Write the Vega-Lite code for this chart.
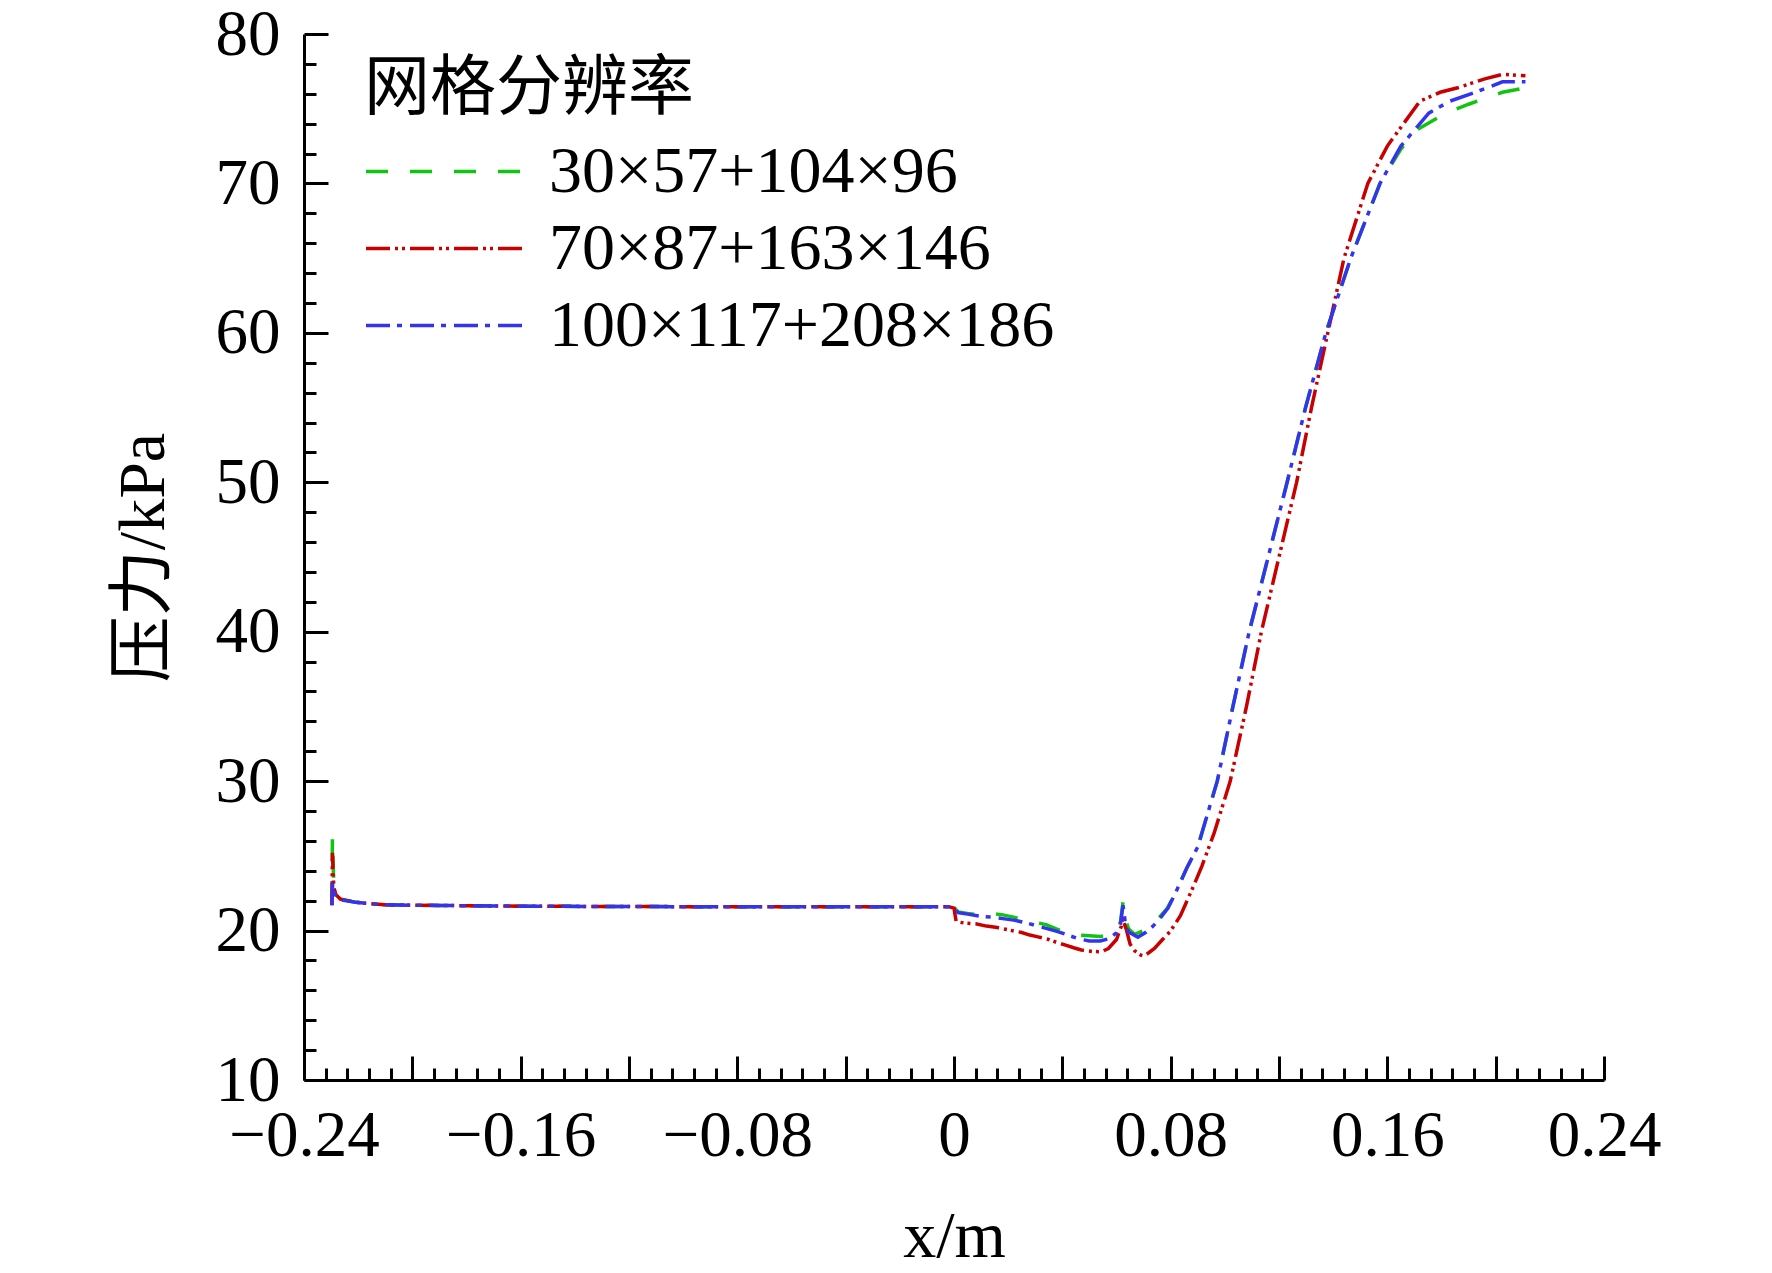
{
  "$schema": "https://vega.github.io/schema/vega-lite/v6.json",
  "width": 1300,
  "height": 1046,
  "autosize": {"type": "none"},
  "padding": {"left": 304, "top": 34, "right": 168, "bottom": 193},
  "background": "white",
  "config": {
    "view": {"stroke": null},
    "axis": {
      "grid": false,
      "domainColor": "black",
      "domainWidth": 3,
      "tickColor": "black",
      "tickWidth": 3,
      "labelFont": "Liberation Serif",
      "labelFontSize": 65,
      "labelColor": "black",
      "labelOverlap": false,
      "labelFlush": false,
      "titleFont": "Liberation Serif, Noto Sans CJK SC",
      "titleFontSize": 66,
      "titleFontWeight": "normal",
      "titleColor": "black"
    },
    "legend": {
      "orient": "none",
      "legendX": 60,
      "legendY": 23,
      "titleFont": "Noto Sans CJK SC",
      "titleFontSize": 66,
      "titleFontWeight": "normal",
      "titleColor": "black",
      "titleLimit": 3000,
      "titlePadding": 10,
      "labelFont": "Liberation Serif",
      "labelFontSize": 66,
      "labelColor": "black",
      "labelLimit": 3000,
      "labelOffset": 22,
      "symbolType": "stroke",
      "symbolSize": 25281,
      "symbolStrokeWidth": 3.5,
      "clipHeight": 77,
      "rowPadding": 0
    }
  },
  "data": {
    "values": [
      {"s": "30×57+104×96", "x": -0.2297, "p": 21.7},
      {"s": "30×57+104×96", "x": -0.2295, "p": 26.3},
      {"s": "30×57+104×96", "x": -0.2290, "p": 23.0},
      {"s": "30×57+104×96", "x": -0.2282, "p": 22.4},
      {"s": "30×57+104×96", "x": -0.2265, "p": 22.1},
      {"s": "30×57+104×96", "x": -0.221, "p": 21.9},
      {"s": "30×57+104×96", "x": -0.216, "p": 21.8},
      {"s": "30×57+104×96", "x": -0.21, "p": 21.72},
      {"s": "30×57+104×96", "x": -0.19, "p": 21.68},
      {"s": "30×57+104×96", "x": -0.16, "p": 21.63},
      {"s": "30×57+104×96", "x": -0.10, "p": 21.6},
      {"s": "30×57+104×96", "x": -0.05, "p": 21.6},
      {"s": "30×57+104×96", "x": -0.002, "p": 21.6},
      {"s": "30×57+104×96", "x": 0.0, "p": 21.55},
      {"s": "30×57+104×96", "x": 0.0015, "p": 21.25},
      {"s": "30×57+104×96", "x": 0.005, "p": 21.15},
      {"s": "30×57+104×96", "x": 0.010, "p": 21.05},
      {"s": "30×57+104×96", "x": 0.014, "p": 21.15},
      {"s": "30×57+104×96", "x": 0.018, "p": 21.05},
      {"s": "30×57+104×96", "x": 0.022, "p": 20.9},
      {"s": "30×57+104×96", "x": 0.026, "p": 20.7},
      {"s": "30×57+104×96", "x": 0.030, "p": 20.55},
      {"s": "30×57+104×96", "x": 0.034, "p": 20.4},
      {"s": "30×57+104×96", "x": 0.038, "p": 20.1},
      {"s": "30×57+104×96", "x": 0.042, "p": 19.85},
      {"s": "30×57+104×96", "x": 0.046, "p": 19.7},
      {"s": "30×57+104×96", "x": 0.050, "p": 19.65},
      {"s": "30×57+104×96", "x": 0.054, "p": 19.6},
      {"s": "30×57+104×96", "x": 0.057, "p": 19.7},
      {"s": "30×57+104×96", "x": 0.060, "p": 20.0},
      {"s": "30×57+104×96", "x": 0.0615, "p": 20.6},
      {"s": "30×57+104×96", "x": 0.0624, "p": 21.9},
      {"s": "30×57+104×96", "x": 0.0632, "p": 20.8},
      {"s": "30×57+104×96", "x": 0.0645, "p": 20.1},
      {"s": "30×57+104×96", "x": 0.0667, "p": 19.75},
      {"s": "30×57+104×96", "x": 0.0700, "p": 20.0},
      {"s": "30×57+104×96", "x": 0.0727, "p": 20.3},
      {"s": "30×57+104×96", "x": 0.075, "p": 20.7},
      {"s": "30×57+104×96", "x": 0.0788, "p": 21.5},
      {"s": "30×57+104×96", "x": 0.082, "p": 22.6},
      {"s": "30×57+104×96", "x": 0.086, "p": 24.2},
      {"s": "30×57+104×96", "x": 0.090, "p": 25.6},
      {"s": "30×57+104×96", "x": 0.0972, "p": 30.0},
      {"s": "30×57+104×96", "x": 0.103, "p": 35.0},
      {"s": "30×57+104×96", "x": 0.109, "p": 40.0},
      {"s": "30×57+104×96", "x": 0.116, "p": 45.0},
      {"s": "30×57+104×96", "x": 0.123, "p": 50.0},
      {"s": "30×57+104×96", "x": 0.1298, "p": 55.0},
      {"s": "30×57+104×96", "x": 0.1373, "p": 60.0},
      {"s": "30×57+104×96", "x": 0.1465, "p": 65.0},
      {"s": "30×57+104×96", "x": 0.1573, "p": 70.0},
      {"s": "30×57+104×96", "x": 0.165, "p": 72.3},
      {"s": "30×57+104×96", "x": 0.171, "p": 73.6},
      {"s": "30×57+104×96", "x": 0.1815, "p": 74.7},
      {"s": "30×57+104×96", "x": 0.19, "p": 75.3},
      {"s": "30×57+104×96", "x": 0.2025, "p": 76.1},
      {"s": "30×57+104×96", "x": 0.211, "p": 76.4},

      {"s": "70×87+163×146", "x": -0.2297, "p": 21.7},
      {"s": "70×87+163×146", "x": -0.2295, "p": 25.2},
      {"s": "70×87+163×146", "x": -0.2290, "p": 22.9},
      {"s": "70×87+163×146", "x": -0.2282, "p": 22.4},
      {"s": "70×87+163×146", "x": -0.2265, "p": 22.1},
      {"s": "70×87+163×146", "x": -0.221, "p": 21.9},
      {"s": "70×87+163×146", "x": -0.216, "p": 21.8},
      {"s": "70×87+163×146", "x": -0.21, "p": 21.72},
      {"s": "70×87+163×146", "x": -0.19, "p": 21.68},
      {"s": "70×87+163×146", "x": -0.16, "p": 21.63},
      {"s": "70×87+163×146", "x": -0.10, "p": 21.6},
      {"s": "70×87+163×146", "x": -0.05, "p": 21.6},
      {"s": "70×87+163×146", "x": -0.002, "p": 21.6},
      {"s": "70×87+163×146", "x": 0.0, "p": 21.5},
      {"s": "70×87+163×146", "x": 0.0008, "p": 20.6},
      {"s": "70×87+163×146", "x": 0.004, "p": 20.5},
      {"s": "70×87+163×146", "x": 0.008, "p": 20.45},
      {"s": "70×87+163×146", "x": 0.012, "p": 20.3},
      {"s": "70×87+163×146", "x": 0.016, "p": 20.2},
      {"s": "70×87+163×146", "x": 0.020, "p": 20.05},
      {"s": "70×87+163×146", "x": 0.025, "p": 19.87},
      {"s": "70×87+163×146", "x": 0.028, "p": 19.7},
      {"s": "70×87+163×146", "x": 0.031, "p": 19.58},
      {"s": "70×87+163×146", "x": 0.035, "p": 19.4},
      {"s": "70×87+163×146", "x": 0.038, "p": 19.2},
      {"s": "70×87+163×146", "x": 0.0412, "p": 19.03},
      {"s": "70×87+163×146", "x": 0.0442, "p": 18.85},
      {"s": "70×87+163×146", "x": 0.047, "p": 18.7},
      {"s": "70×87+163×146", "x": 0.051, "p": 18.6},
      {"s": "70×87+163×146", "x": 0.0545, "p": 18.58},
      {"s": "70×87+163×146", "x": 0.057, "p": 18.8},
      {"s": "70×87+163×146", "x": 0.060, "p": 19.4},
      {"s": "70×87+163×146", "x": 0.0618, "p": 20.3},
      {"s": "70×87+163×146", "x": 0.0622, "p": 20.8},
      {"s": "70×87+163×146", "x": 0.0636, "p": 20.1},
      {"s": "70×87+163×146", "x": 0.065, "p": 19.1},
      {"s": "70×87+163×146", "x": 0.0667, "p": 18.65},
      {"s": "70×87+163×146", "x": 0.069, "p": 18.36},
      {"s": "70×87+163×146", "x": 0.0703, "p": 18.3},
      {"s": "70×87+163×146", "x": 0.074, "p": 18.8},
      {"s": "70×87+163×146", "x": 0.077, "p": 19.4},
      {"s": "70×87+163×146", "x": 0.080, "p": 19.98},
      {"s": "70×87+163×146", "x": 0.0836, "p": 21.0},
      {"s": "70×87+163×146", "x": 0.0885, "p": 23.0},
      {"s": "70×87+163×146", "x": 0.0915, "p": 24.3},
      {"s": "70×87+163×146", "x": 0.096, "p": 26.5},
      {"s": "70×87+163×146", "x": 0.102, "p": 30.0},
      {"s": "70×87+163×146", "x": 0.108, "p": 35.0},
      {"s": "70×87+163×146", "x": 0.1135, "p": 40.0},
      {"s": "70×87+163×146", "x": 0.120, "p": 45.0},
      {"s": "70×87+163×146", "x": 0.1265, "p": 50.0},
      {"s": "70×87+163×146", "x": 0.132, "p": 55.0},
      {"s": "70×87+163×146", "x": 0.138, "p": 60.0},
      {"s": "70×87+163×146", "x": 0.144, "p": 65.0},
      {"s": "70×87+163×146", "x": 0.1528, "p": 70.0},
      {"s": "70×87+163×146", "x": 0.160, "p": 72.5},
      {"s": "70×87+163×146", "x": 0.166, "p": 74.0},
      {"s": "70×87+163×146", "x": 0.172, "p": 75.5},
      {"s": "70×87+163×146", "x": 0.1795, "p": 76.1},
      {"s": "70×87+163×146", "x": 0.186, "p": 76.4},
      {"s": "70×87+163×146", "x": 0.196, "p": 77.0},
      {"s": "70×87+163×146", "x": 0.2025, "p": 77.3},
      {"s": "70×87+163×146", "x": 0.211, "p": 77.2},

      {"s": "100×117+208×186", "x": -0.2297, "p": 21.7},
      {"s": "100×117+208×186", "x": -0.2294, "p": 23.2},
      {"s": "100×117+208×186", "x": -0.2288, "p": 22.5},
      {"s": "100×117+208×186", "x": -0.2280, "p": 22.2},
      {"s": "100×117+208×186", "x": -0.2265, "p": 22.05},
      {"s": "100×117+208×186", "x": -0.221, "p": 21.9},
      {"s": "100×117+208×186", "x": -0.216, "p": 21.8},
      {"s": "100×117+208×186", "x": -0.21, "p": 21.72},
      {"s": "100×117+208×186", "x": -0.19, "p": 21.68},
      {"s": "100×117+208×186", "x": -0.16, "p": 21.63},
      {"s": "100×117+208×186", "x": -0.10, "p": 21.6},
      {"s": "100×117+208×186", "x": -0.05, "p": 21.6},
      {"s": "100×117+208×186", "x": -0.002, "p": 21.6},
      {"s": "100×117+208×186", "x": 0.0, "p": 21.55},
      {"s": "100×117+208×186", "x": 0.0015, "p": 21.2},
      {"s": "100×117+208×186", "x": 0.005, "p": 21.1},
      {"s": "100×117+208×186", "x": 0.010, "p": 20.95},
      {"s": "100×117+208×186", "x": 0.014, "p": 20.9},
      {"s": "100×117+208×186", "x": 0.018, "p": 20.8},
      {"s": "100×117+208×186", "x": 0.022, "p": 20.7},
      {"s": "100×117+208×186", "x": 0.026, "p": 20.55},
      {"s": "100×117+208×186", "x": 0.030, "p": 20.35},
      {"s": "100×117+208×186", "x": 0.034, "p": 20.15},
      {"s": "100×117+208×186", "x": 0.038, "p": 19.95},
      {"s": "100×117+208×186", "x": 0.042, "p": 19.7},
      {"s": "100×117+208×186", "x": 0.046, "p": 19.45},
      {"s": "100×117+208×186", "x": 0.050, "p": 19.3},
      {"s": "100×117+208×186", "x": 0.054, "p": 19.3},
      {"s": "100×117+208×186", "x": 0.057, "p": 19.45},
      {"s": "100×117+208×186", "x": 0.060, "p": 19.85},
      {"s": "100×117+208×186", "x": 0.0615, "p": 20.5},
      {"s": "100×117+208×186", "x": 0.0624, "p": 21.7},
      {"s": "100×117+208×186", "x": 0.0632, "p": 20.6},
      {"s": "100×117+208×186", "x": 0.0645, "p": 19.9},
      {"s": "100×117+208×186", "x": 0.0679, "p": 19.55},
      {"s": "100×117+208×186", "x": 0.0710, "p": 19.9},
      {"s": "100×117+208×186", "x": 0.0735, "p": 20.3},
      {"s": "100×117+208×186", "x": 0.076, "p": 20.8},
      {"s": "100×117+208×186", "x": 0.079, "p": 21.5},
      {"s": "100×117+208×186", "x": 0.082, "p": 22.6},
      {"s": "100×117+208×186", "x": 0.086, "p": 24.2},
      {"s": "100×117+208×186", "x": 0.090, "p": 25.6},
      {"s": "100×117+208×186", "x": 0.0972, "p": 30.0},
      {"s": "100×117+208×186", "x": 0.103, "p": 35.0},
      {"s": "100×117+208×186", "x": 0.109, "p": 40.0},
      {"s": "100×117+208×186", "x": 0.116, "p": 45.0},
      {"s": "100×117+208×186", "x": 0.123, "p": 50.0},
      {"s": "100×117+208×186", "x": 0.1298, "p": 55.0},
      {"s": "100×117+208×186", "x": 0.1373, "p": 60.0},
      {"s": "100×117+208×186", "x": 0.1465, "p": 65.0},
      {"s": "100×117+208×186", "x": 0.1573, "p": 70.0},
      {"s": "100×117+208×186", "x": 0.165, "p": 72.5},
      {"s": "100×117+208×186", "x": 0.1753, "p": 74.7},
      {"s": "100×117+208×186", "x": 0.183, "p": 75.5},
      {"s": "100×117+208×186", "x": 0.194, "p": 76.2},
      {"s": "100×117+208×186", "x": 0.2025, "p": 76.8},
      {"s": "100×117+208×186", "x": 0.211, "p": 76.8}
    ]
  },
  "mark": {"type": "line", "strokeWidth": 3.5, "clip": true},
  "encoding": {
    "x": {
      "field": "x",
      "type": "quantitative",
      "scale": {"domain": [-0.24, 0.24], "nice": false, "zero": false},
      "axis": {
        "title": "x/m",
        "titlePadding": 24,
        "format": "~g",
        "values": [-0.24, -0.232, -0.224, -0.216, -0.208, -0.2, -0.192, -0.184, -0.176, -0.168, -0.16, -0.152, -0.144, -0.136, -0.128, -0.12, -0.112, -0.104, -0.096, -0.088, -0.08, -0.072, -0.064, -0.056, -0.048, -0.04, -0.032, -0.024, -0.016, -0.008, 0, 0.008, 0.016, 0.024, 0.032, 0.04, 0.048, 0.056, 0.064, 0.072, 0.08, 0.088, 0.096, 0.104, 0.112, 0.12, 0.128, 0.136, 0.144, 0.152, 0.16, 0.168, 0.176, 0.184, 0.192, 0.2, 0.208, 0.216, 0.224, 0.232, 0.24],
        "tickSize": {"condition": {"test": "abs(datum.value*25 - round(datum.value*25)) < 0.001", "value": -24}, "value": -12},
        "labelPadding": 48,
        "labelExpr": "abs(datum.value*12.5 - round(datum.value*12.5)) < 0.001 ? datum.label : ''"
      }
    },
    "y": {
      "field": "p",
      "type": "quantitative",
      "scale": {"domain": [10, 80], "nice": false, "zero": false},
      "axis": {
        "title": "压力/kPa",
        "titlePadding": 38,
        "values": [10, 12, 14, 16, 18, 20, 22, 24, 26, 28, 30, 32, 34, 36, 38, 40, 42, 44, 46, 48, 50, 52, 54, 56, 58, 60, 62, 64, 66, 68, 70, 72, 74, 76, 78, 80],
        "tickSize": {"condition": {"test": "abs(datum.value/10 - round(datum.value/10)) < 0.001", "value": -24}, "value": -12},
        "labelPadding": 48,
        "labelExpr": "abs(datum.value/10 - round(datum.value/10)) < 0.001 ? datum.label : ''"
      }
    },
    "color": {
      "field": "s",
      "type": "nominal",
      "title": "网格分辨率",
      "scale": {
        "domain": ["30×57+104×96", "70×87+163×146", "100×117+208×186"],
        "range": ["#12c412", "#c80000", "#3434ee"]
      }
    },
    "strokeDash": {
      "field": "s",
      "type": "nominal",
      "title": "网格分辨率",
      "scale": {
        "domain": ["30×57+104×96", "70×87+163×146", "100×117+208×186"],
        "range": [[22, 22], [24, 5, 3, 4, 3, 5], [24, 7, 5, 8]]
      }
    }
  }
}
